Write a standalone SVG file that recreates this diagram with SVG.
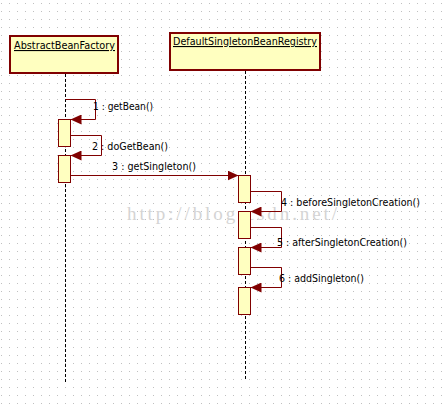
<svg xmlns="http://www.w3.org/2000/svg" width="447" height="407" viewBox="0 0 447 407">
<style>
.node{fill:#FFFFC0;stroke:#800000;stroke-width:2}
.act{fill:#FFFFC0;stroke:#800000;stroke-width:1}
.life{stroke:#000;stroke-width:1;stroke-dasharray:3,2;fill:none}
.msg{stroke:#800000;stroke-width:1;fill:none;marker-end:url(#arr)}
.lbl{font-family:"DejaVu Sans",Verdana,sans-serif;font-size:11px;fill:#000}
.title{font-family:"DejaVu Sans",Verdana,sans-serif;font-size:11px;fill:#000;text-decoration:underline}
</style>
<defs>
<pattern id="grid" patternUnits="userSpaceOnUse" x="0" y="0" width="8" height="8">
<rect x="1" y="3" width="1" height="1" fill="#c0c0c0"/>
</pattern>
<marker id="arr" markerUnits="userSpaceOnUse" markerWidth="12" markerHeight="10" refX="11" refY="5" orient="auto">
<path d="M0,0 L11,5 L0,10 z" fill="#800000"/>
</marker>
</defs>
<rect width="447" height="407" fill="#fff"/>
<rect width="447" height="407" fill="url(#grid)"/>
<text x="127" y="220" font-family="'Liberation Serif','DejaVu Serif',serif" font-size="19" fill="#d4d4d4" textLength="210" lengthAdjust="spacing">http://blog.csdn.net/</text>
<g id="lifelines">
<line class="life" x1="65.5" y1="74" x2="65.5" y2="383"/>
<line class="life" x1="245.5" y1="71" x2="245.5" y2="380"/>
</g>
<g id="AbstractBeanFactory">
<rect class="node" x="10" y="36" width="108" height="37"/>
<text class="title" x="14" y="49" textLength="101" lengthAdjust="spacingAndGlyphs">AbstractBeanFactory</text>
</g>
<g id="DefaultSingletonBeanRegistry">
<rect class="node" x="170" y="33" width="150" height="37"/>
<text class="title" x="173" y="45" textLength="144" lengthAdjust="spacingAndGlyphs">DefaultSingletonBeanRegistry</text>
</g>
<g id="activations">
<rect class="act" x="58.5" y="119.5" width="12" height="27"/>
<rect class="act" x="58.5" y="155.5" width="12" height="27"/>
<rect class="act" x="238.5" y="175.5" width="12" height="27"/>
<rect class="act" x="238.5" y="211.5" width="12" height="27"/>
<rect class="act" x="238.5" y="247.5" width="12" height="27"/>
<rect class="act" x="238.5" y="287.5" width="12" height="27"/>
</g>
<g id="connectors">
<path class="msg" d="M65.5 99.5 H95.5 V119.5 H70.5"/>
<path class="msg" d="M70.5 135.5 H101.5 V155.5 H70.5"/>
<path class="msg" d="M70.5 175.5 H238.5"/>
<path class="msg" d="M250.5 191.5 H281.5 V211.5 H250.5"/>
<path class="msg" d="M250.5 227.5 H281.5 V247.5 H250.5"/>
<path class="msg" d="M250.5 267.5 H281.5 V287.5 H250.5"/>
</g>
<g id="labels">
<text class="lbl" x="93" y="110" textLength="60" lengthAdjust="spacingAndGlyphs">1 : getBean()</text>
<text class="lbl" x="92" y="150" textLength="76" lengthAdjust="spacingAndGlyphs">2 : doGetBean()</text>
<text class="lbl" x="112" y="170" textLength="84" lengthAdjust="spacingAndGlyphs">3 : getSingleton()</text>
<text class="lbl" x="281" y="206" textLength="139" lengthAdjust="spacingAndGlyphs">4 : beforeSingletonCreation()</text>
<text class="lbl" x="277" y="246" textLength="130" lengthAdjust="spacingAndGlyphs">5 : afterSingletonCreation()</text>
<text class="lbl" x="279" y="282" textLength="85" lengthAdjust="spacingAndGlyphs">6 : addSingleton()</text>
</g>
</svg>
